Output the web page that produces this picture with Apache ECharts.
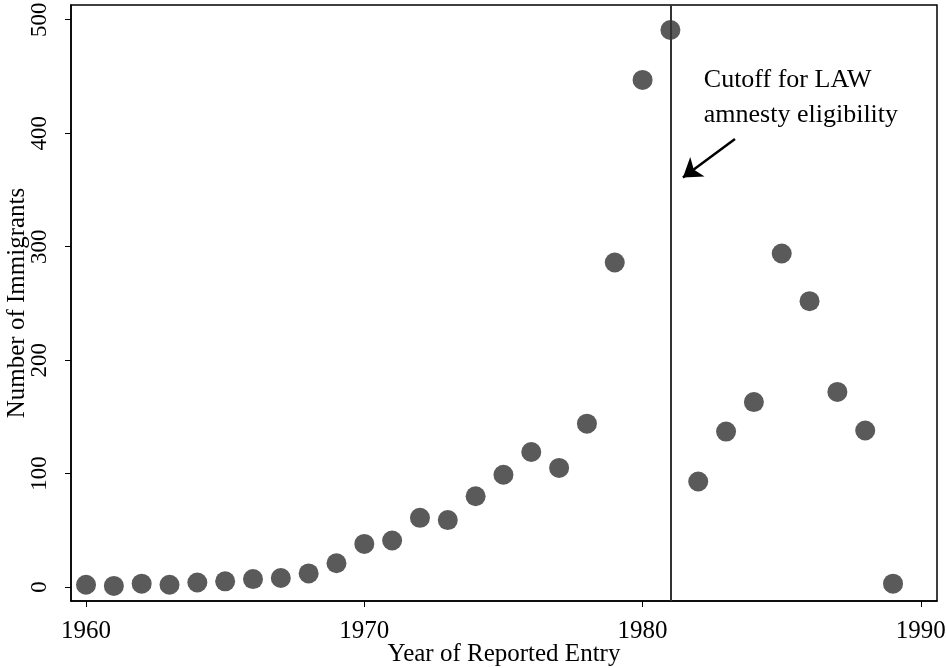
<!DOCTYPE html>
<html>
<head>
<meta charset="utf-8">
<script src="https://cdn.jsdelivr.net/npm/echarts@6/dist/echarts.min.js"></script>
<style>
  html, body { margin: 0; padding: 0; background: #fff; }
  #main { width: 946px; height: 668px; }
</style>
</head>
<body>
<div id="main"></div>
<script>
// 数据
var years = [1960, 1961, 1962, 1963, 1964, 1965, 1966, 1967, 1968, 1969,
             1970, 1971, 1972, 1973, 1974, 1975, 1976, 1977, 1978, 1979,
             1980, 1981, 1982, 1983, 1984, 1985, 1986, 1987, 1988, 1989]
var immigrants = [2, 1, 3, 2, 4, 5, 7, 8, 12, 21,
                  38, 41, 61, 59, 80, 99, 119, 105, 144, 286,
                  447, 491, 93, 137, 163, 294, 252, 172, 138, 3]
var xTicks = [1960, 1970, 1980, 1990]
var yTicks = [0, 100, 200, 300, 400, 500]
var cutoffYear = 1981
var noteLines = ['Cutoff for LAW', 'amnesty eligibility']
var notePos = [1982.2, 431]
var arrowFrom = [1983.32, 395]
var arrowTo = [1981.45, 361]

var font = 'Liberation Serif'
var points = years.map(function (y, i) { return [y, immigrants[i]] })

var chart = echarts.init(document.getElementById('main'))
chart.setOption({
  animation: false,
  grid: {
    left: 71, right: 9, top: 5, bottom: 67,
    outerBoundsMode: 'none',
    show: true, borderColor: '#000', borderWidth: 1.5
  },
  xAxis: {
    type: 'value', min: 1959.46, max: 1990.58,
    name: 'Year of Reported Entry', nameLocation: 'middle', nameGap: 41,
    nameMoveOverlap: false,
    nameTextStyle: { fontFamily: font, fontSize: 25, color: '#000' },
    axisLine: { show: true, onZero: false, lineStyle: { color: '#000', width: 1.5 } },
    axisTick: { show: true, length: 6, customValues: xTicks, lineStyle: { color: '#000' } },
    axisLabel: {
      customValues: xTicks, margin: 18, fontFamily: font, fontSize: 25, color: '#000',
      formatter: function (v) { return String(v) }
    },
    splitLine: { show: false }
  },
  yAxis: {
    type: 'value', min: -12.3, max: 513,
    name: 'Number of Immigrants', nameLocation: 'middle', nameGap: 41, nameRotate: 90,
    nameMoveOverlap: false,
    nameTextStyle: { fontFamily: font, fontSize: 25, color: '#000' },
    axisLine: { show: true, onZero: false, lineStyle: { color: '#000', width: 1.5 } },
    axisTick: { show: true, length: 6, customValues: yTicks, lineStyle: { color: '#000' } },
    axisLabel: { customValues: yTicks, rotate: 90, margin: 20, fontFamily: font, fontSize: 23, color: '#000' },
    splitLine: { show: false }
  },
  series: [
    {
      type: 'scatter',
      data: points,
      symbolSize: 20,
      itemStyle: { color: '#5a5a5a', opacity: 1 },
      markLine: {
        silent: true,
        symbol: 'none',
        label: { show: false },
        lineStyle: { color: '#333', width: 2, type: 'solid' },
        data: [{ xAxis: cutoffYear }]
      }
    },
    {
      type: 'scatter',
      data: [],
      markLine: {
        silent: true,
        symbol: ['none', 'arrow'],
        symbolSize: 18,
        label: { show: false },
        lineStyle: { color: '#000', width: 2.5, type: 'solid' },
        data: [[{ coord: arrowFrom }, { coord: arrowTo }]]
      },
      markPoint: {
        silent: true,
        symbol: 'circle',
        symbolSize: 0,
        label: {
          show: true, position: 'right', distance: 0,
          formatter: noteLines.join('\n'),
          fontFamily: font, fontSize: 26, lineHeight: 35, color: '#000', align: 'left'
        },
        data: [{ coord: notePos }]
      }
    }
  ]
})
</script>
</body>
</html>
